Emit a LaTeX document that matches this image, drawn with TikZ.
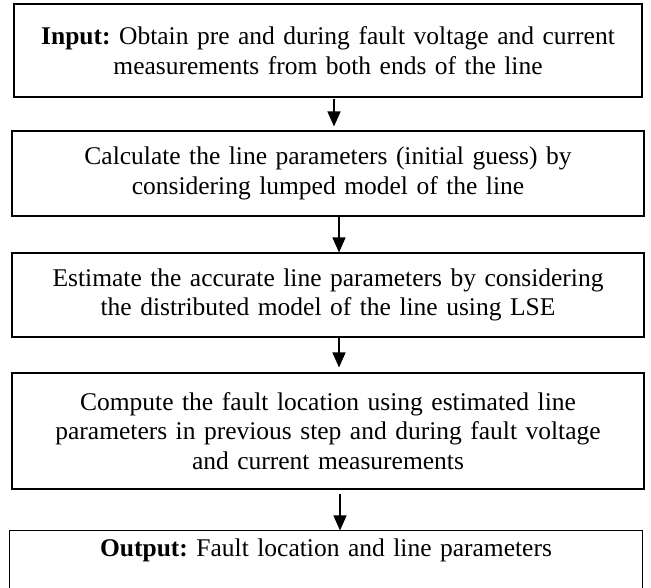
\documentclass[tikz,border=0pt]{standalone}
\usepackage{fontspec}
\setmainfont{Liberation Serif}
\usetikzlibrary{arrows.meta}
\begin{document}
\frenchspacing
\begin{tikzpicture}[x=1pt,y=1pt,
  stepbox/.style={draw=black, line width=1.1pt, inner sep=0pt, align=center,
    font=\fontsize{25.5}{29.5}\selectfont\frenchspacing, text width=#1},
  flow/.style={line width=1.3pt, -{Triangle[length=15pt,width=13pt]}}]
\useasboundingbox (0,0) rectangle (651,-587);
\clip (0,0) rectangle (651,-587);
\node[stepbox=628pt, minimum width=628pt, minimum height=93pt] (b1) at (328,-50.5)
  {\textbf{Input:} Obtain pre and during fault voltage and current\\measurements from both ends of the line};
\node[stepbox=632pt, minimum width=632pt, minimum height=85pt] (b2) at (328,-173.5)
  {Calculate the line parameters (initial guess) by\\considering lumped model of the line};
\node[stepbox=632pt, minimum width=632pt, minimum height=84pt] (b3) at (328,-295)
  {Estimate the accurate line parameters by considering\\the distributed model of the line using LSE};
\node[stepbox=632pt, minimum width=632pt, minimum height=116pt] (b4) at (328,-431)
  {Compute the fault location using estimated line\\parameters in previous step and during fault voltage\\and current measurements};
\node[stepbox=632pt, draw=none, minimum width=632pt, minimum height=38pt] (b5) at (326,-550)
  {\textbf{Output:} Fault location and line parameters};
\draw[line width=1.1pt] ([yshift=-40pt]b5.south west) -- (b5.north west) -- (b5.north east) -- ([yshift=-40pt]b5.south east);
\draw[flow] ([xshift=6pt,yshift=-1pt]b1.south) -- ([xshift=6pt,yshift=4pt]b2.north);
\draw[flow] ([xshift=11pt]b2.south) -- ([xshift=11pt]b3.north);
\draw[flow] ([xshift=11pt]b3.south) -- ([xshift=11pt,yshift=5pt]b4.north);
\draw[flow] ([xshift=12pt,yshift=-4pt]b4.south) -- ([xshift=14pt]b5.north);
\end{tikzpicture}
\end{document}
